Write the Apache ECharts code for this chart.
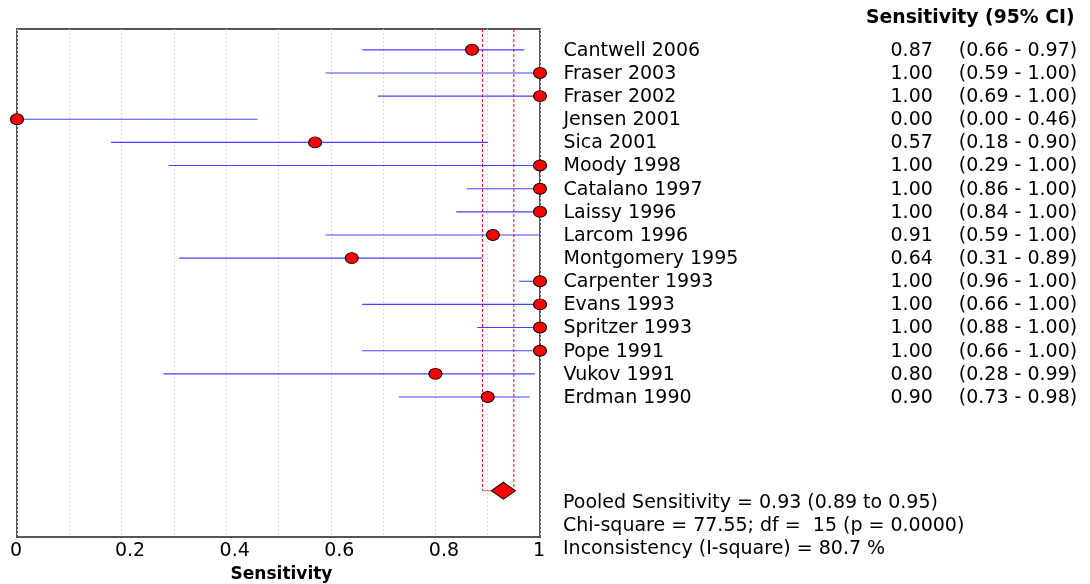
<!DOCTYPE html>
<html>
<head>
<meta charset="utf-8">
<script src="https://cdn.jsdelivr.net/npm/echarts@6/dist/echarts.min.js"></script>
<style>
  html, body { margin: 0; padding: 0; background: #fff; }
  #chart { width: 1090px; height: 584px; }
</style>
</head>
<body>
<div id="chart"></div>
<script>
// studies, top to bottom
var studies = ['Cantwell 2006', 'Fraser 2003', 'Fraser 2002', 'Jensen 2001', 'Sica 2001',
  'Moody 1998', 'Catalano 1997', 'Laissy 1996', 'Larcom 1996', 'Montgomery 1995',
  'Carpenter 1993', 'Evans 1993', 'Spritzer 1993', 'Pope 1991', 'Vukov 1991', 'Erdman 1990'];
var sens = [0.87, 1.00, 1.00, 0.00, 0.57, 1.00, 1.00, 1.00, 0.91, 0.64, 1.00, 1.00, 1.00, 1.00, 0.80, 0.90];
var ciLow = [0.66, 0.59, 0.69, 0.00, 0.18, 0.29, 0.86, 0.84, 0.59, 0.31, 0.96, 0.66, 0.88, 0.66, 0.28, 0.73];
var ciHigh = [0.97, 1.00, 1.00, 0.46, 0.90, 1.00, 1.00, 1.00, 1.00, 0.89, 1.00, 1.00, 1.00, 1.00, 0.99, 0.98];

// pooled estimate
var pooled = [0.93, 0.89, 0.95];
var pooledRow = 19.05;
var footLines = [
  'Pooled Sensitivity = 0.93 (0.89 to 0.95)',
  'Chi-square = 77.55; df =  15 (p = 0.0000)',
  'Inconsistency (I-square) = 80.7 %'
];

var FONT = 'DejaVu Sans';
var chart = echarts.init(document.getElementById('chart'));

var ciData = [], ptData = [], labelData = [];
for (var i = 0; i < studies.length; i++) {
  ciData.push([ciLow[i], ciHigh[i], i]);
  ptData.push([sens[i], i]);
  labelData.push({
    value: [1, i],
    txt: '{n|' + studies[i] + '}{v|' + sens[i].toFixed(2) + '}{c|(' + ciLow[i].toFixed(2) + ' - ' + ciHigh[i].toFixed(2) + ')}'
  });
}

chart.setOption({
  animation: false,
  grid: {
    left: 17, right: 550, top: 29, bottom: 47,
    outerBoundsMode: 'none',
    show: true, borderColor: '#555', borderWidth: 2, backgroundColor: 'transparent'
  },
  xAxis: {
    type: 'value', min: 0, max: 1, interval: 0.1,
    axisLine: { show: true, onZero: false, lineStyle: { color: '#555', width: 2 } },
    axisTick: { show: false },
    splitLine: { show: true, lineStyle: { color: '#d8d8d8', type: [2, 2] } },
    axisLabel: {
      color: '#000', fontFamily: FONT, fontSize: 19, margin: 5,
      formatter: function (v) {
        var k = Math.round(v * 10);
        if (k % 2 !== 0) return '';
        if (k === 0) return '{e|0}';
        if (k === 10) return '{e|1}';
        return '{d|' + (k / 10).toFixed(1) + '}';
      },
      rich: {
        d: { fontFamily: FONT, fontSize: 19, color: '#000', padding: [0, 0, 0, 17] },
        e: { fontFamily: FONT, fontSize: 19, color: '#000', padding: [0, 2, 0, 0] }
      }
    },
    name: 'Sensitivity', nameLocation: 'middle', nameGap: 25,
    nameTextStyle: { color: '#000', fontFamily: FONT, fontSize: 17, fontWeight: 'bold', padding: [0, 0, 0, 6] }
  },
  yAxis: {
    type: 'value', inverse: true, min: -0.9, max: 21.05, show: false
  },
  graphic: [
    {
      type: 'text', left: 866, top: 9,
      style: { text: 'Sensitivity (95% CI)', font: 'bold 18.8px "DejaVu Sans"', fill: '#000' }
    },
    {
      type: 'text', left: 563, top: 492,
      style: { text: footLines.join('\n'), font: '19px "DejaVu Sans"', lineHeight: 23, fill: '#000' }
    }
  ],
  series: [
    {
      // pooled CI bracket
      type: 'custom', z: 1, silent: true,
      data: [[pooled[1], pooled[2], pooledRow]],
      renderItem: function (params, api) {
        var a = api.coord([api.value(0), -0.9]);
        var b = api.coord([api.value(0), api.value(2)]);
        var c = api.coord([api.value(1), -0.9]);
        var d = api.coord([api.value(1), api.value(2)]);
        return {
          type: 'group',
          children: [
            { type: 'line', shape: { x1: a[0], y1: a[1], x2: b[0], y2: b[1] }, style: { stroke: '#ff0000', lineWidth: 1, lineDash: [3, 2] } },
            { type: 'line', shape: { x1: c[0], y1: c[1], x2: d[0], y2: d[1] }, style: { stroke: '#ff0000', lineWidth: 1, lineDash: [3, 2] } },
            { type: 'line', shape: { x1: b[0], y1: b[1], x2: d[0], y2: d[1] }, style: { stroke: '#ff6060', lineWidth: 1 } }
          ]
        };
      }
    },
    {
      // CI lines
      type: 'custom', z: 2, silent: true,
      data: ciData,
      renderItem: function (params, api) {
        var s = api.coord([api.value(0), api.value(2)]);
        var e = api.coord([api.value(1), api.value(2)]);
        return {
          type: 'line',
          shape: { x1: s[0], y1: s[1], x2: e[0], y2: e[1] },
          style: { stroke: '#2222ff', lineWidth: 1.1, opacity: 0.85 }
        };
      }
    },
    {
      type: 'scatter', z: 3, silent: true,
      data: ptData,
      symbol: 'circle', symbolSize: [13, 11],
      itemStyle: { color: '#ff0000', borderColor: '#000', borderWidth: 1, opacity: 1 }
    },
    {
      type: 'scatter', z: 3, silent: true,
      data: [[pooled[0], pooledRow]],
      symbol: 'diamond', symbolSize: [24, 17],
      itemStyle: { color: '#ff0000', borderColor: '#000', borderWidth: 1, opacity: 1 }
    },
    {
      // study labels on the right
      type: 'scatter', z: 4, silent: true,
      data: labelData,
      symbolSize: 1,
      itemStyle: { color: 'rgba(0,0,0,0)', opacity: 1 },
      label: {
        show: true, position: 'right', distance: 23, offset: [0, 1],
        formatter: function (p) { return p.data.txt; },
        color: '#000', fontFamily: FONT, fontSize: 19,
        rich: {
          n: { width: 327, fontFamily: FONT, fontSize: 19, color: '#000' },
          v: { fontFamily: FONT, fontSize: 19, color: '#000' },
          c: { padding: [0, 0, 0, 26], fontFamily: FONT, fontSize: 19, color: '#000' }
        }
      }
    }
  ]
});
</script>
</body>
</html>
